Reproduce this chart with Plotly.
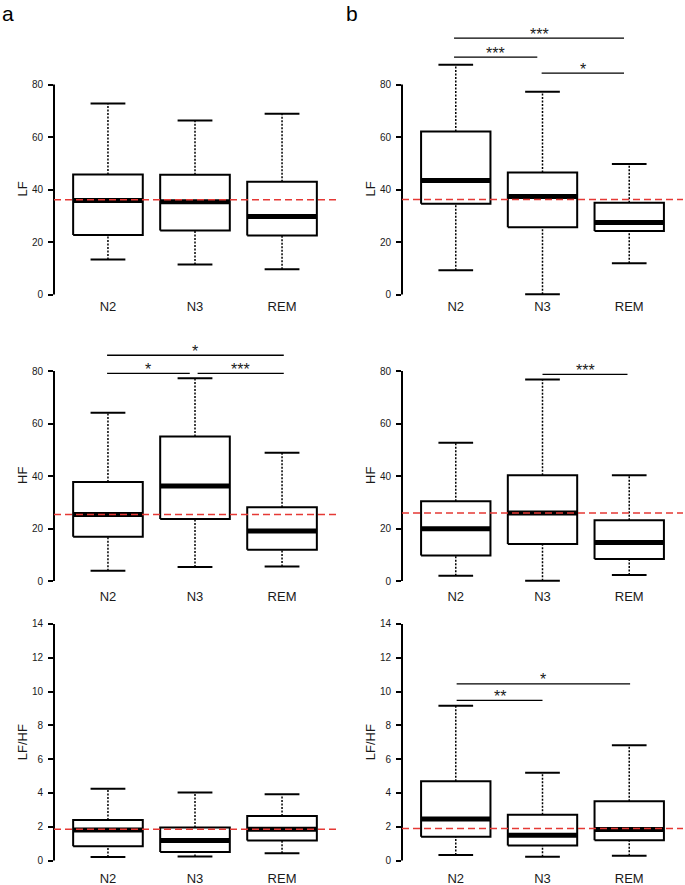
# HRV spectral power by sleep stage, boxplots in R style
import plotly.graph_objects as go

stages = ["N2", "N3", "REM"]

# lower whisker, Q1, median, Q3, upper whisker (N2, N3, REM)
lf_a = [[13.3, 22.7, 35.8, 45.7, 72.8], [11.4, 24.4, 35.3, 45.6, 66.3], [9.6, 22.5, 29.7, 43.0, 68.9]]
hf_a = [[3.9, 16.9, 25.3, 37.7, 64.1], [5.3, 23.6, 36.2, 55.0, 77.2], [5.5, 11.9, 19.0, 28.1, 48.9]]
ratio_a = [[0.2, 0.85, 1.8, 2.39, 4.24], [0.24, 0.51, 1.18, 1.95, 4.02], [0.43, 1.18, 1.85, 2.64, 3.92]]
lf_b = [[9.2, 34.6, 43.4, 62.1, 87.5], [0.1, 25.6, 37.3, 46.5, 77.2], [11.9, 24.2, 27.4, 35.0, 49.7]]
hf_b = [[2.0, 9.7, 19.9, 30.4, 52.7], [0.1, 14.1, 25.9, 40.3, 76.8], [2.3, 8.4, 14.7, 23.1, 40.3]]
ratio_b = [[0.32, 1.40, 2.45, 4.69, 9.15], [0.22, 0.89, 1.50, 2.70, 5.19], [0.28, 1.20, 1.83, 3.51, 6.82]]

# reference level (red dashed) for LF, HF, LF/HF
baseline_a = [36.1, 25.3, 1.85]
baseline_b = [36.2, 25.9, 1.9]

yticks_power = [0, 20, 40, 60, 80]
yticks_ratio = [0, 2, 4, 6, 8, 10, 12, 14]

# significance bars: from, to, height, label
sig_hf_a = [(0.99, 3.02, 86.0, "*"), (0.99, 1.94, 79.1, "*"), (2.03, 3.02, 79.1, "***")]
sig_lf_b = [(0.98, 2.94, 97.7, "***"), (0.98, 1.94, 90.4, "***"), (1.99, 2.94, 84.3, "*")]
sig_hf_b = [(2.0, 2.98, 78.7, "***")]
sig_ratio_b = [(1.01, 3.01, 10.45, "*"), (1.01, 2.0, 9.47, "**")]

W, H = 685, 885
FONT = "Arial, Liberation Sans, sans-serif"
col_px = {"a": (54, 336), "b": (402, 683)}
# pixel of y=0, pixels per unit, domain top, domain bottom
row_px = [(294.5, 2.625, 2, 297), (581, 2.625, 312, 587), (860.5, 16.9, 600, 869)]

panels = [
    ("a", 0, lf_a, baseline_a[0], [], "LF", yticks_power),
    ("b", 0, lf_b, baseline_b[0], sig_lf_b, "LF", yticks_power),
    ("a", 1, hf_a, baseline_a[1], sig_hf_a, "HF", yticks_power),
    ("b", 1, hf_b, baseline_b[1], sig_hf_b, "HF", yticks_power),
    ("a", 2, ratio_a, baseline_a[2], [], "LF/HF", yticks_ratio),
    ("b", 2, ratio_b, baseline_b[2], sig_ratio_b, "LF/HF", yticks_ratio),
]

fig = go.Figure()
layout = {}
for k, (col, r, stats, base, sig, title, ticks) in enumerate(panels, start=1):
    xa = "x" if k == 1 else f"x{k}"
    ya = "y" if k == 1 else f"y{k}"
    opts = dict(xaxis=xa, yaxis=ya, mode="lines", hoverinfo="skip", showlegend=False)
    for i, (lo, q1, med, q3, hi) in enumerate(stats, start=1):
        fig.add_trace(go.Scatter(x=[i, i, None, i, i], y=[lo, q1, None, q3, hi],
                                 line=dict(color="black", width=1.5, dash="2px,1.5px"), **opts))
        fig.add_trace(go.Scatter(x=[i - 0.2, i + 0.2, None, i - 0.2, i + 0.2], y=[lo, lo, None, hi, hi],
                                 line=dict(color="black", width=2), **opts))
        fig.add_trace(go.Scatter(x=[i - 0.4, i + 0.4, i + 0.4, i - 0.4, i - 0.4], y=[q1, q1, q3, q3, q1],
                                 fill="toself", fillcolor="white", line=dict(color="black", width=2), **opts))
        fig.add_trace(go.Scatter(x=[i - 0.4, i + 0.4], y=[med, med],
                                 line=dict(color="black", width=5), **opts))

    x0, x1 = col_px[col]
    y0px, scale, top, bottom = row_px[r]
    layout["xaxis" if k == 1 else f"xaxis{k}"] = dict(
        domain=[x0 / W, x1 / W], range=[0.38, 3.62], anchor=ya, automargin=False,
        tickvals=[1, 2, 3], ticktext=stages, ticks="", showline=False,
        showgrid=False, zeroline=False, tickfont=dict(size=13, color="#1a1a1a"))
    layout["yaxis" if k == 1 else f"yaxis{k}"] = dict(
        domain=[1 - bottom / H, 1 - top / H], automargin=False,
        range=[(y0px - bottom) / scale, (y0px - top) / scale], anchor=xa,
        tickvals=ticks, ticks="outside", ticklen=5, tickwidth=1.5, tickcolor="black",
        ticklabelstandoff=3, showline=False, showgrid=False, zeroline=False,
        tickfont=dict(size=10, color="#1a1a1a"))

    # y title centred on the tick range, as R does
    fig.add_annotation(x=(x0 - 32) / W, y=(ticks[0] + ticks[-1]) / 2, xref="paper", yref=ya,
                       xanchor="center", yanchor="middle",
                       text=title, textangle=-90, showarrow=False,
                       font=dict(size=13, color="#1a1a1a"))
    # R-style axis line spanning only the tick range
    fig.add_shape(type="line", xref="paper", yref=ya, x0=x0 / W, x1=x0 / W, y0=ticks[0], y1=ticks[-1],
                  line=dict(color="black", width=2))
    fig.add_shape(type="line", xref="paper", yref=ya, x0=x0 / W, x1=x1 / W, y0=base, y1=base,
                  line=dict(color="#e53935", width=1.5, dash="7px,4px"), layer="above")
    for s0, s1, h, label in sig:
        fig.add_shape(type="line", xref=xa, yref=ya, x0=s0, x1=s1, y0=h, y1=h,
                      line=dict(color="black", width=1.3))
        fig.add_annotation(x=(s0 + s1) / 2, y=h, xref=xa, yref=ya, text=label, showarrow=False,
                           yanchor="middle", yshift=4, font=dict(size=16, color="#1a1a1a"))

fig.add_annotation(x=0, y=1.0, xref="paper", yref="paper", text="a", showarrow=False,
                   xanchor="left", yanchor="top", font=dict(size=21, color="black"))
fig.add_annotation(x=344 / W, y=1.0, xref="paper", yref="paper", text="b", showarrow=False,
                   xanchor="left", yanchor="top", font=dict(size=21, color="black"))

fig.update_layout(width=W, height=H, margin=dict(l=0, r=0, t=0, b=0, autoexpand=False),
                  paper_bgcolor="white", plot_bgcolor="white",
                  font=dict(family=FONT), **layout)
# drop the browser's default body margin so the figure fills the window
fig.write_html("out.html", config={"displayModeBar": False},
               post_script="document.body.style.margin='0';")
